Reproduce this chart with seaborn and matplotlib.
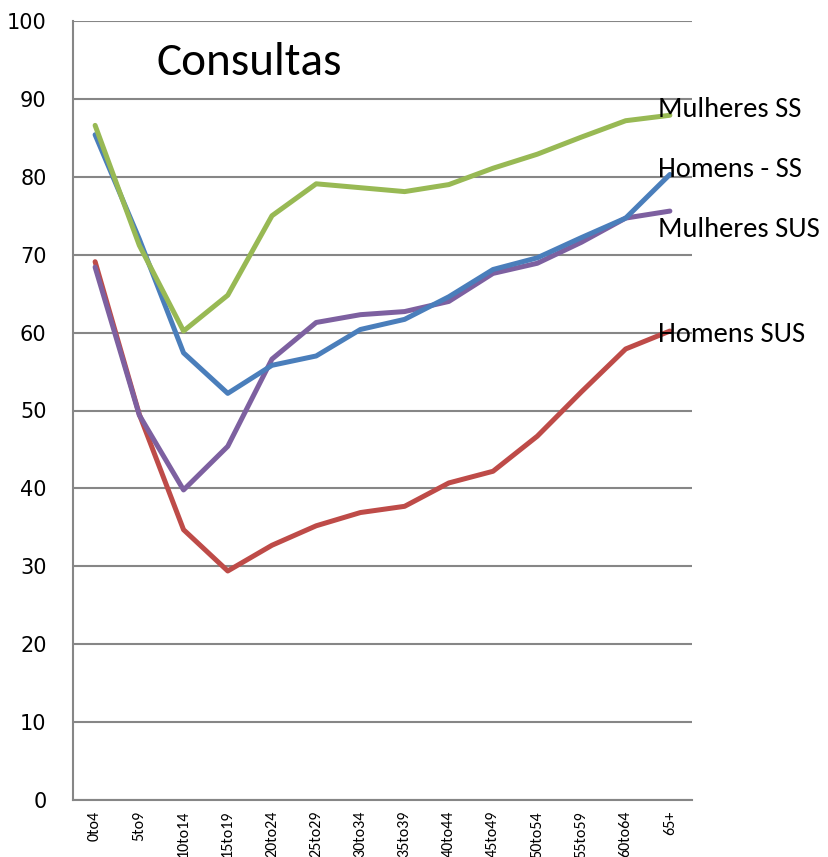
import matplotlib
matplotlib.use("Agg")
import matplotlib.pyplot as plt
import seaborn as sns
import pandas as pd
import numpy as np
from matplotlib.ticker import FixedLocator, NullFormatter

categories = ["0to4", "5to9", "10to14", "15to19", "20to24", "25to29", "30to34",
              "35to39", "40to44", "45to49", "50to54", "55to59", "60to64", "65+"]
homens_sus = [69.1, 49.5, 34.7, 29.4, 32.7, 35.2, 36.9, 37.7, 40.7, 42.2, 46.7, 52.4, 57.9, 60.2]
mulheres_sus = [68.4, 49.4, 39.8, 45.4, 56.6, 61.3, 62.3, 62.7, 64.0, 67.6, 68.9, 71.6, 74.7, 75.6]
homens_ss = [85.4, 72.0, 57.4, 52.2, 55.8, 57.0, 60.4, 61.7, 64.6, 68.1, 69.6, 72.2, 74.7, 80.3]
mulheres_ss = [86.6, 71.2, 60.2, 64.8, 75.0, 79.1, 78.6, 78.1, 79.0, 81.1, 82.9, 85.1, 87.2, 87.9]
series_names = ["Homens SUS", "Mulheres SUS", "Homens - SS", "Mulheres SS"]
label_texts = ["Mulheres SS", "Homens - SS", "Mulheres SUS", "Homens SUS"]
title_text = "Consultas"

colors = {"Homens SUS": "#BE4B48", "Mulheres SUS": "#7D60A0",
          "Homens - SS": "#4A7EBB", "Mulheres SS": "#98B954"}

rows = []
for name, vals in zip(series_names, [homens_sus, mulheres_sus, homens_ss, mulheres_ss]):
    for i, (c, v) in enumerate(zip(categories, vals)):
        rows.append({"pos": i, "cat": c, "valor": v, "serie": name})
df = pd.DataFrame(rows)

sns.set_style("white")
plt.rcParams["font.family"] = ["DejaVu Sans"]
plt.rcParams["text.color"] = "black"
plt.rcParams["xtick.color"] = "black"
plt.rcParams["ytick.color"] = "black"

fig = plt.figure(figsize=(8.29, 8.57), dpi=100)
ax = fig.add_axes([73/829, 1-800/857, (692-73)/829, (800-21)/857])

sns.lineplot(data=df, x="pos", y="valor", hue="serie", palette=colors,
             hue_order=series_names, linewidth=3.6, legend=False, ax=ax,
             sort=False)
for line in ax.lines:
    line.set_solid_capstyle("round")
    line.set_solid_joinstyle("round")

ax.set_xlim(-0.5, len(categories) - 0.5)
ax.set_ylim(0, 100)
ax.set_yticks(np.arange(0, 101, 10))
ax.set_yticklabels([str(v) for v in range(0, 101, 10)], fontsize=15, color="black")
ax.yaxis.grid(True, color="#868686", linewidth=1.5)
ax.set_axisbelow(True)
ax.xaxis.grid(False)

ax.set_xticks(range(len(categories)))
ax.set_xticklabels(categories, rotation=90, fontsize=11.5,
                   family=["Carlito", "DejaVu Sans"], va="top", color="black")
ax.tick_params(axis="x", which="major", length=0, pad=8)
ax.xaxis.set_minor_locator(FixedLocator(np.arange(-0.5, len(categories), 1)))
ax.xaxis.set_minor_formatter(NullFormatter())
ax.tick_params(axis="x", which="minor", length=6, width=1.5, color="#868686")
ax.tick_params(axis="y", length=7, width=1.5, color="#868686", labelcolor="black", pad=12)

for s in ["top", "right"]:
    ax.spines[s].set_visible(False)
for s in ["left", "bottom"]:
    ax.spines[s].set_color("#868686")
    ax.spines[s].set_linewidth(1.5)

label_y = [88.6, 80.9, 73.2, 59.7]
for txt, yv in zip(label_texts, label_y):
    ax.text(12.72, yv, txt, fontsize=20.5, family=["Carlito", "DejaVu Sans"],
            color="black", ha="left", va="center", clip_on=False)

ax.text(1.39, 94.7, title_text, fontsize=34, family=["Carlito", "DejaVu Sans"],
        color="black", ha="left", va="center")

ax.set_xlabel("")
ax.set_ylabel("")
fig.savefig("out.png", dpi=100)
